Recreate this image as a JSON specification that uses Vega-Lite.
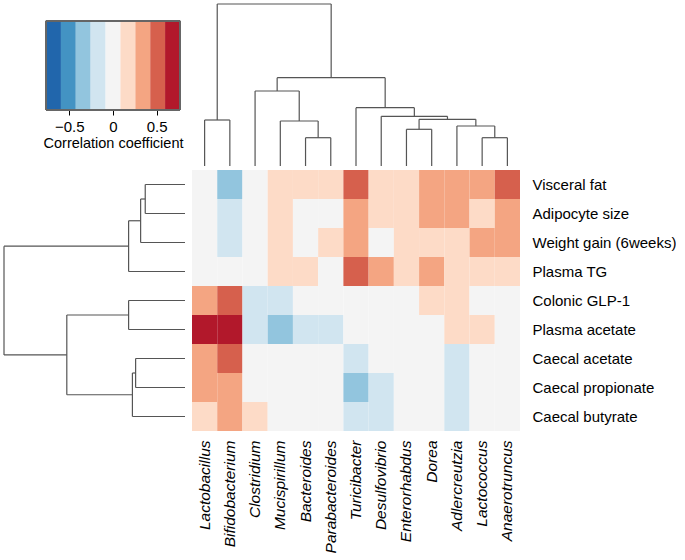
{
  "$schema": "https://vega.github.io/schema/vega-lite/v6.json",
  "padding": {"left": 3, "top": 3, "right": 0, "bottom": 0},
  "spacing": 3,
  "config": {
    "view": {"stroke": null},
    "font": "Liberation Sans",
    "axis": {"labelFont": "Liberation Sans", "labelFontSize": 15, "labelColor": "#000", "titleFont": "Liberation Sans", "titleFontSize": 14.5, "titleFontWeight": "normal", "titleColor": "#000"}
  },
  "datasets": {
    "cells": [
      {"b": "Lactobacillus", "p": "Visceral fat", "r": 0},
      {"b": "Bifidobacterium", "p": "Visceral fat", "r": -0.34},
      {"b": "Clostridium", "p": "Visceral fat", "r": 0},
      {"b": "Mucispirillum", "p": "Visceral fat", "r": 0.19},
      {"b": "Bacteroides", "p": "Visceral fat", "r": 0.17},
      {"b": "Parabacteroides", "p": "Visceral fat", "r": 0.21},
      {"b": "Turicibacter", "p": "Visceral fat", "r": 0.52},
      {"b": "Desulfovibrio", "p": "Visceral fat", "r": 0.2},
      {"b": "Enterorhabdus", "p": "Visceral fat", "r": 0.18},
      {"b": "Dorea", "p": "Visceral fat", "r": 0.36},
      {"b": "Adlercreutzia", "p": "Visceral fat", "r": 0.38},
      {"b": "Lactococcus", "p": "Visceral fat", "r": 0.34},
      {"b": "Anaerotruncus", "p": "Visceral fat", "r": 0.49},

      {"b": "Lactobacillus", "p": "Adipocyte size", "r": 0},
      {"b": "Bifidobacterium", "p": "Adipocyte size", "r": -0.18},
      {"b": "Clostridium", "p": "Adipocyte size", "r": 0},
      {"b": "Mucispirillum", "p": "Adipocyte size", "r": 0.16},
      {"b": "Bacteroides", "p": "Adipocyte size", "r": 0},
      {"b": "Parabacteroides", "p": "Adipocyte size", "r": 0},
      {"b": "Turicibacter", "p": "Adipocyte size", "r": 0.33},
      {"b": "Desulfovibrio", "p": "Adipocyte size", "r": 0.22},
      {"b": "Enterorhabdus", "p": "Adipocyte size", "r": 0.19},
      {"b": "Dorea", "p": "Adipocyte size", "r": 0.37},
      {"b": "Adlercreutzia", "p": "Adipocyte size", "r": 0.35},
      {"b": "Lactococcus", "p": "Adipocyte size", "r": 0.21},
      {"b": "Anaerotruncus", "p": "Adipocyte size", "r": 0.39},

      {"b": "Lactobacillus", "p": "Weight gain (6weeks)", "r": 0},
      {"b": "Bifidobacterium", "p": "Weight gain (6weeks)", "r": -0.2},
      {"b": "Clostridium", "p": "Weight gain (6weeks)", "r": 0},
      {"b": "Mucispirillum", "p": "Weight gain (6weeks)", "r": 0.18},
      {"b": "Bacteroides", "p": "Weight gain (6weeks)", "r": 0},
      {"b": "Parabacteroides", "p": "Weight gain (6weeks)", "r": 0.2},
      {"b": "Turicibacter", "p": "Weight gain (6weeks)", "r": 0.31},
      {"b": "Desulfovibrio", "p": "Weight gain (6weeks)", "r": 0},
      {"b": "Enterorhabdus", "p": "Weight gain (6weeks)", "r": 0.16},
      {"b": "Dorea", "p": "Weight gain (6weeks)", "r": 0.22},
      {"b": "Adlercreutzia", "p": "Weight gain (6weeks)", "r": 0.2},
      {"b": "Lactococcus", "p": "Weight gain (6weeks)", "r": 0.35},
      {"b": "Anaerotruncus", "p": "Weight gain (6weeks)", "r": 0.33},

      {"b": "Lactobacillus", "p": "Plasma TG", "r": 0},
      {"b": "Bifidobacterium", "p": "Plasma TG", "r": 0},
      {"b": "Clostridium", "p": "Plasma TG", "r": 0},
      {"b": "Mucispirillum", "p": "Plasma TG", "r": 0.21},
      {"b": "Bacteroides", "p": "Plasma TG", "r": 0.18},
      {"b": "Parabacteroides", "p": "Plasma TG", "r": 0},
      {"b": "Turicibacter", "p": "Plasma TG", "r": 0.55},
      {"b": "Desulfovibrio", "p": "Plasma TG", "r": 0.32},
      {"b": "Enterorhabdus", "p": "Plasma TG", "r": 0.17},
      {"b": "Dorea", "p": "Plasma TG", "r": 0.36},
      {"b": "Adlercreutzia", "p": "Plasma TG", "r": 0.2},
      {"b": "Lactococcus", "p": "Plasma TG", "r": 0.19},
      {"b": "Anaerotruncus", "p": "Plasma TG", "r": 0.23},

      {"b": "Lactobacillus", "p": "Colonic GLP-1", "r": 0.38},
      {"b": "Bifidobacterium", "p": "Colonic GLP-1", "r": 0.5},
      {"b": "Clostridium", "p": "Colonic GLP-1", "r": -0.19},
      {"b": "Mucispirillum", "p": "Colonic GLP-1", "r": -0.17},
      {"b": "Bacteroides", "p": "Colonic GLP-1", "r": 0},
      {"b": "Parabacteroides", "p": "Colonic GLP-1", "r": 0},
      {"b": "Turicibacter", "p": "Colonic GLP-1", "r": 0},
      {"b": "Desulfovibrio", "p": "Colonic GLP-1", "r": 0},
      {"b": "Enterorhabdus", "p": "Colonic GLP-1", "r": 0},
      {"b": "Dorea", "p": "Colonic GLP-1", "r": 0.2},
      {"b": "Adlercreutzia", "p": "Colonic GLP-1", "r": 0.22},
      {"b": "Lactococcus", "p": "Colonic GLP-1", "r": 0},
      {"b": "Anaerotruncus", "p": "Colonic GLP-1", "r": 0},

      {"b": "Lactobacillus", "p": "Plasma acetate", "r": 0.7},
      {"b": "Bifidobacterium", "p": "Plasma acetate", "r": 0.66},
      {"b": "Clostridium", "p": "Plasma acetate", "r": -0.21},
      {"b": "Mucispirillum", "p": "Plasma acetate", "r": -0.36},
      {"b": "Bacteroides", "p": "Plasma acetate", "r": -0.18},
      {"b": "Parabacteroides", "p": "Plasma acetate", "r": -0.16},
      {"b": "Turicibacter", "p": "Plasma acetate", "r": 0},
      {"b": "Desulfovibrio", "p": "Plasma acetate", "r": 0},
      {"b": "Enterorhabdus", "p": "Plasma acetate", "r": 0},
      {"b": "Dorea", "p": "Plasma acetate", "r": 0},
      {"b": "Adlercreutzia", "p": "Plasma acetate", "r": 0.19},
      {"b": "Lactococcus", "p": "Plasma acetate", "r": 0.18},
      {"b": "Anaerotruncus", "p": "Plasma acetate", "r": 0},

      {"b": "Lactobacillus", "p": "Caecal acetate", "r": 0.37},
      {"b": "Bifidobacterium", "p": "Caecal acetate", "r": 0.53},
      {"b": "Clostridium", "p": "Caecal acetate", "r": 0},
      {"b": "Mucispirillum", "p": "Caecal acetate", "r": 0},
      {"b": "Bacteroides", "p": "Caecal acetate", "r": 0},
      {"b": "Parabacteroides", "p": "Caecal acetate", "r": 0},
      {"b": "Turicibacter", "p": "Caecal acetate", "r": -0.2},
      {"b": "Desulfovibrio", "p": "Caecal acetate", "r": 0},
      {"b": "Enterorhabdus", "p": "Caecal acetate", "r": 0},
      {"b": "Dorea", "p": "Caecal acetate", "r": 0},
      {"b": "Adlercreutzia", "p": "Caecal acetate", "r": -0.17},
      {"b": "Lactococcus", "p": "Caecal acetate", "r": 0},
      {"b": "Anaerotruncus", "p": "Caecal acetate", "r": 0},

      {"b": "Lactobacillus", "p": "Caecal propionate", "r": 0.39},
      {"b": "Bifidobacterium", "p": "Caecal propionate", "r": 0.35},
      {"b": "Clostridium", "p": "Caecal propionate", "r": 0},
      {"b": "Mucispirillum", "p": "Caecal propionate", "r": 0},
      {"b": "Bacteroides", "p": "Caecal propionate", "r": 0},
      {"b": "Parabacteroides", "p": "Caecal propionate", "r": 0},
      {"b": "Turicibacter", "p": "Caecal propionate", "r": -0.33},
      {"b": "Desulfovibrio", "p": "Caecal propionate", "r": -0.19},
      {"b": "Enterorhabdus", "p": "Caecal propionate", "r": 0},
      {"b": "Dorea", "p": "Caecal propionate", "r": 0},
      {"b": "Adlercreutzia", "p": "Caecal propionate", "r": -0.18},
      {"b": "Lactococcus", "p": "Caecal propionate", "r": 0},
      {"b": "Anaerotruncus", "p": "Caecal propionate", "r": 0},

      {"b": "Lactobacillus", "p": "Caecal butyrate", "r": 0.22},
      {"b": "Bifidobacterium", "p": "Caecal butyrate", "r": 0.34},
      {"b": "Clostridium", "p": "Caecal butyrate", "r": 0.18},
      {"b": "Mucispirillum", "p": "Caecal butyrate", "r": 0},
      {"b": "Bacteroides", "p": "Caecal butyrate", "r": 0},
      {"b": "Parabacteroides", "p": "Caecal butyrate", "r": 0},
      {"b": "Turicibacter", "p": "Caecal butyrate", "r": -0.16},
      {"b": "Desulfovibrio", "p": "Caecal butyrate", "r": -0.2},
      {"b": "Enterorhabdus", "p": "Caecal butyrate", "r": 0},
      {"b": "Dorea", "p": "Caecal butyrate", "r": 0},
      {"b": "Adlercreutzia", "p": "Caecal butyrate", "r": -0.19},
      {"b": "Lactococcus", "p": "Caecal butyrate", "r": 0},
      {"b": "Anaerotruncus", "p": "Caecal butyrate", "r": 0}
    ],
    "bins": [
      {"lo": -0.767, "hi": -0.596, "mid": -0.68},
      {"lo": -0.596, "hi": -0.426, "mid": -0.51},
      {"lo": -0.426, "hi": -0.256, "mid": -0.34},
      {"lo": -0.256, "hi": -0.085, "mid": -0.17},
      {"lo": -0.085, "hi": 0.085, "mid": 0},
      {"lo": 0.085, "hi": 0.256, "mid": 0.17},
      {"lo": 0.256, "hi": 0.426, "mid": 0.34},
      {"lo": 0.426, "hi": 0.596, "mid": 0.51},
      {"lo": 0.596, "hi": 0.767, "mid": 0.68}
    ],
    "colTree": [
      {"pos": 0.5, "pos2": 1.5, "h": 0.46, "h2": 0.46},
      {"pos": 0.5, "pos2": 0.5, "h": 0, "h2": 0.46},
      {"pos": 1.5, "pos2": 1.5, "h": 0, "h2": 0.46},
      {"pos": 4.5, "pos2": 5.5, "h": 0.283, "h2": 0.283},
      {"pos": 4.5, "pos2": 4.5, "h": 0, "h2": 0.283},
      {"pos": 5.5, "pos2": 5.5, "h": 0, "h2": 0.283},
      {"pos": 3.5, "pos2": 5.0, "h": 0.45, "h2": 0.45},
      {"pos": 3.5, "pos2": 3.5, "h": 0, "h2": 0.45},
      {"pos": 5.0, "pos2": 5.0, "h": 0.283, "h2": 0.45},
      {"pos": 2.5, "pos2": 4.25, "h": 0.75, "h2": 0.75},
      {"pos": 2.5, "pos2": 2.5, "h": 0, "h2": 0.75},
      {"pos": 4.25, "pos2": 4.25, "h": 0.45, "h2": 0.75},
      {"pos": 11.5, "pos2": 12.5, "h": 0.283, "h2": 0.283},
      {"pos": 11.5, "pos2": 11.5, "h": 0, "h2": 0.283},
      {"pos": 12.5, "pos2": 12.5, "h": 0, "h2": 0.283},
      {"pos": 10.5, "pos2": 12.0, "h": 0.4, "h2": 0.4},
      {"pos": 10.5, "pos2": 10.5, "h": 0, "h2": 0.4},
      {"pos": 12.0, "pos2": 12.0, "h": 0.283, "h2": 0.4},
      {"pos": 8.5, "pos2": 9.5, "h": 0.367, "h2": 0.367},
      {"pos": 8.5, "pos2": 8.5, "h": 0, "h2": 0.367},
      {"pos": 9.5, "pos2": 9.5, "h": 0, "h2": 0.367},
      {"pos": 9.0, "pos2": 11.25, "h": 0.467, "h2": 0.467},
      {"pos": 9.0, "pos2": 9.0, "h": 0.367, "h2": 0.467},
      {"pos": 11.25, "pos2": 11.25, "h": 0.4, "h2": 0.467},
      {"pos": 7.5, "pos2": 10.125, "h": 0.497, "h2": 0.497},
      {"pos": 7.5, "pos2": 7.5, "h": 0, "h2": 0.497},
      {"pos": 10.125, "pos2": 10.125, "h": 0.467, "h2": 0.497},
      {"pos": 6.5, "pos2": 8.8125, "h": 0.583, "h2": 0.583},
      {"pos": 6.5, "pos2": 6.5, "h": 0, "h2": 0.583},
      {"pos": 8.8125, "pos2": 8.8125, "h": 0.497, "h2": 0.583},
      {"pos": 3.375, "pos2": 7.656, "h": 0.883, "h2": 0.883},
      {"pos": 3.375, "pos2": 3.375, "h": 0.75, "h2": 0.883},
      {"pos": 7.656, "pos2": 7.656, "h": 0.583, "h2": 0.883},
      {"pos": 1.0, "pos2": 5.516, "h": 1.62, "h2": 1.62},
      {"pos": 1.0, "pos2": 1.0, "h": 0.46, "h2": 1.62},
      {"pos": 5.516, "pos2": 5.516, "h": 0.883, "h2": 1.62}
    ],
    "rowTree": [
      {"pos": 0.5, "pos2": 1.5, "d": 0.397, "d2": 0.397},
      {"pos": 0.5, "pos2": 0.5, "d": 0, "d2": 0.397},
      {"pos": 1.5, "pos2": 1.5, "d": 0, "d2": 0.397},
      {"pos": 1.0, "pos2": 2.5, "d": 0.443, "d2": 0.443},
      {"pos": 1.0, "pos2": 1.0, "d": 0.397, "d2": 0.443},
      {"pos": 2.5, "pos2": 2.5, "d": 0, "d2": 0.443},
      {"pos": 1.75, "pos2": 3.5, "d": 0.563, "d2": 0.563},
      {"pos": 1.75, "pos2": 1.75, "d": 0.443, "d2": 0.563},
      {"pos": 3.5, "pos2": 3.5, "d": 0, "d2": 0.563},
      {"pos": 4.5, "pos2": 5.5, "d": 0.563, "d2": 0.563},
      {"pos": 4.5, "pos2": 4.5, "d": 0, "d2": 0.563},
      {"pos": 5.5, "pos2": 5.5, "d": 0, "d2": 0.563},
      {"pos": 6.5, "pos2": 7.5, "d": 0.493, "d2": 0.493},
      {"pos": 6.5, "pos2": 6.5, "d": 0, "d2": 0.493},
      {"pos": 7.5, "pos2": 7.5, "d": 0, "d2": 0.493},
      {"pos": 7.0, "pos2": 8.5, "d": 0.525, "d2": 0.525},
      {"pos": 7.0, "pos2": 7.0, "d": 0.493, "d2": 0.525},
      {"pos": 8.5, "pos2": 8.5, "d": 0, "d2": 0.525},
      {"pos": 5.0, "pos2": 7.75, "d": 1.18, "d2": 1.18},
      {"pos": 5.0, "pos2": 5.0, "d": 0.563, "d2": 1.18},
      {"pos": 7.75, "pos2": 7.75, "d": 0.525, "d2": 1.18},
      {"pos": 2.625, "pos2": 6.375, "d": 1.807, "d2": 1.807},
      {"pos": 2.625, "pos2": 2.625, "d": 0.563, "d2": 1.807},
      {"pos": 6.375, "pos2": 6.375, "d": 1.18, "d2": 1.807}
    ]
  },
  "vconcat": [
    {
      "bounds": "flush",
      "spacing": 12,
      "hconcat": [
        {
          "width": 176,
          "height": 106,
          "data": {"name": "bins"},
          "layer": [
            {
              "mark": {"type": "rect"},
              "encoding": {
                "x": {"field": "lo", "type": "quantitative", "scale": {"domain": [-1.248, 0.767], "nice": false, "zero": false},
                  "axis": {"values": [-0.5, 0, 0.5], "format": ".1~f", "domain": false, "ticks": true, "tickSize": 5, "tickColor": "#000", "labelPadding": 4, "grid": false, "title": "Correlation coefficient", "titleX": 109, "titlePadding": 2}},
                "x2": {"field": "hi"},
                "y": {"datum": 0, "type": "quantitative", "scale": {"domain": [0, 1.19], "nice": false}, "axis": null},
                "y2": {"datum": 1},
                "color": {"field": "mid", "type": "quantitative", "legend": null,
                  "scale": {"type": "threshold", "domain": [-0.596, -0.426, -0.256, -0.085, 0.085, 0.256, 0.426, 0.596],
                    "range": ["#2166ac", "#4393c3", "#92c5de", "#d1e5f0", "#f4f4f4", "#fddbc7", "#f4a582", "#d6604d", "#b2182b"]}}
              }
            },
            {
              "mark": {"type": "rect", "fill": null, "stroke": "#666", "strokeWidth": 1},
              "encoding": {
                "x": {"datum": -0.767, "type": "quantitative"},
                "x2": {"datum": 0.767},
                "y": {"datum": 0, "type": "quantitative"},
                "y2": {"datum": 1}
              }
            }
          ]
        },
        {
          "width": 328,
          "height": 162,
          "data": {"name": "colTree"},
          "mark": {"type": "rule", "stroke": "#555", "strokeWidth": 1.2},
          "encoding": {
            "x": {"field": "pos", "type": "quantitative", "scale": {"domain": [0, 13], "nice": false, "zero": false}, "axis": null},
            "x2": {"field": "pos2"},
            "y": {"field": "h", "type": "quantitative", "scale": {"domain": [0, 1.62], "nice": false}, "axis": null},
            "y2": {"field": "h2"}
          }
        }
      ]
    },
    {
      "bounds": "flush",
      "spacing": 7,
      "hconcat": [
        {
          "width": 181,
          "height": 261,
          "data": {"name": "rowTree"},
          "mark": {"type": "rule", "stroke": "#555", "strokeWidth": 1.2},
          "encoding": {
            "y": {"field": "pos", "type": "quantitative", "scale": {"domain": [0, 9], "nice": false, "zero": false, "reverse": true}, "axis": null},
            "y2": {"field": "pos2"},
            "x": {"field": "d", "type": "quantitative", "scale": {"domain": [0, 1.807], "nice": false, "reverse": true}, "axis": null},
            "x2": {"field": "d2"}
          }
        },
        {
          "width": 328,
          "height": 261,
          "data": {"name": "cells"},
          "mark": {"type": "rect"},
          "encoding": {
            "x": {"field": "b", "type": "nominal",
              "sort": ["Lactobacillus", "Bifidobacterium", "Clostridium", "Mucispirillum", "Bacteroides", "Parabacteroides", "Turicibacter", "Desulfovibrio", "Enterorhabdus", "Dorea", "Adlercreutzia", "Lactococcus", "Anaerotruncus"],
              "scale": {"paddingInner": 0, "paddingOuter": 0},
              "axis": {"orient": "bottom", "title": null, "labelAngle": -90, "labelFontStyle": "italic", "labelFontSize": 15.5, "ticks": false, "domain": false, "labelPadding": 9}},
            "y": {"field": "p", "type": "nominal",
              "sort": ["Visceral fat", "Adipocyte size", "Weight gain (6weeks)", "Plasma TG", "Colonic GLP-1", "Plasma acetate", "Caecal acetate", "Caecal propionate", "Caecal butyrate"],
              "scale": {"paddingInner": 0, "paddingOuter": 0},
              "axis": {"orient": "right", "title": null, "ticks": false, "domain": false, "labelPadding": 12}},
            "color": {"field": "r", "type": "quantitative", "legend": null,
              "scale": {"type": "threshold", "domain": [-0.596, -0.426, -0.256, -0.085, 0.085, 0.256, 0.426, 0.596],
                "range": ["#2166ac", "#4393c3", "#92c5de", "#d1e5f0", "#f4f4f4", "#fddbc7", "#f4a582", "#d6604d", "#b2182b"]}}
          }
        }
      ]
    }
  ]
}
